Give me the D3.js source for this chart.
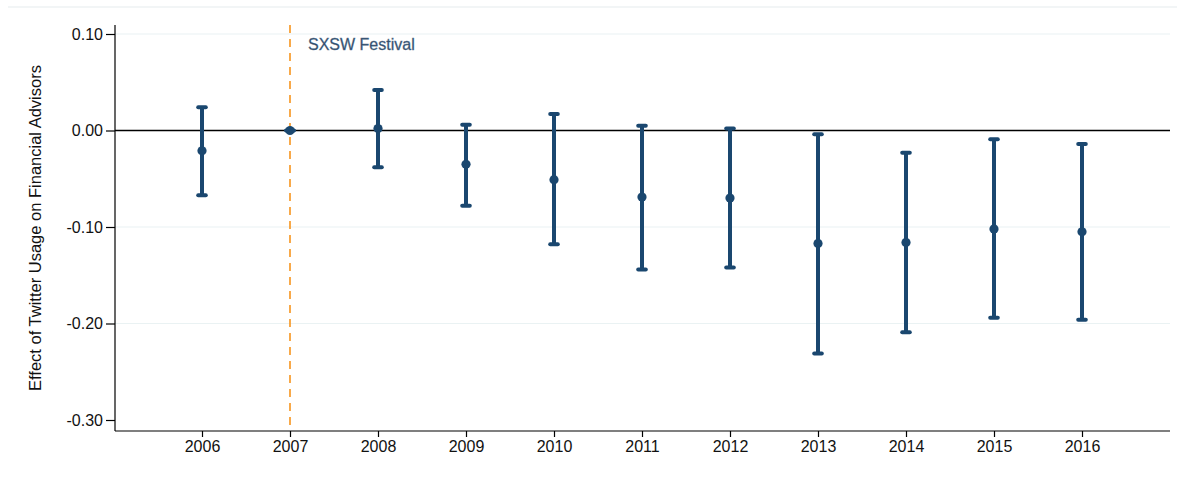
<!DOCTYPE html>
<html>
<head>
<meta charset="utf-8">
<script src="https://cdn.jsdelivr.net/npm/d3@7"></script>
<style>
  html, body { margin: 0; padding: 0; background: #fff; }
  svg { display: block; font-family: "Liberation Sans", Arial, sans-serif; }
</style>
</head>
<body>
<svg id="chart" width="1177" height="477"></svg>
<script>
// Event-study estimates by year, with 95% confidence bounds
const years = [2006, 2007, 2008, 2009, 2010, 2011, 2012, 2013, 2014, 2015, 2016];
const estimates = [-0.021, 0.000, 0.002, -0.035, -0.051, -0.069, -0.070, -0.117, -0.116, -0.102, -0.105];
const upperCI = [0.024, 0.000, 0.042, 0.006, 0.017, 0.005, 0.002, -0.004, -0.023, -0.009, -0.014];
const lowerCI = [-0.067, 0.000, -0.038, -0.078, -0.118, -0.144, -0.142, -0.231, -0.209, -0.194, -0.196];
const yTicks = [0.10, 0.00, -0.10, -0.20, -0.30];
const gridValues = [0.10, -0.10, -0.20];
const eventYear = 2007;
const eventLabel = "SXSW Festival";
const yTitle = "Effect of Twitter Usage on Financial Advisors";

const navy = "#1a476f";
const fontSize = 16;
const svg = d3.select("#chart");

const x = d3.scaleLinear().domain([2005, 2017]).range([114, 1170]);
const y = d3.scaleLinear().domain([0.10, -0.30]).range([34, 420]);
const plotTop = 25, plotBottom = 431, plotLeft = 115, plotRight = 1170;

// faint outer frame line
svg.append("line").attr("x1", 8).attr("x2", 1177).attr("y1", 7).attr("y2", 7)
  .attr("stroke", "#eef2f3").attr("stroke-width", 1.5);

// gridlines
svg.append("g").selectAll("line").data(gridValues).join("line")
  .attr("x1", plotLeft).attr("x2", plotRight)
  .attr("y1", d => y(d)).attr("y2", d => y(d))
  .attr("stroke", "#eaf2f3").attr("stroke-width", 1.2);

// zero reference line
svg.append("line").attr("x1", plotLeft).attr("x2", plotRight)
  .attr("y1", y(0)).attr("y2", y(0))
  .attr("stroke", "#000").attr("stroke-width", 1.3);

// event line
svg.append("line").attr("x1", x(eventYear)).attr("x2", x(eventYear))
  .attr("y1", plotTop).attr("y2", plotBottom)
  .attr("stroke", "#f7941d").attr("stroke-width", 1.6)
  .attr("stroke-dasharray", "8,6");

svg.append("text").attr("x", x(eventYear) + 18).attr("y", 50)
  .attr("fill", "#2b4a6b").attr("stroke", "#5f7690").attr("stroke-width", 0.35)
  .attr("font-size", fontSize).text(eventLabel);

// axes
const yAxis = d3.axisLeft(y).tickValues(yTicks).tickFormat(d3.format(".2f")).tickSize(9).tickPadding(3);
const gy = svg.append("g").attr("transform", `translate(${plotLeft},0)`).call(yAxis);
gy.select(".domain").attr("d", `M0,${plotTop}V${plotBottom}`).attr("stroke", "#000").attr("stroke-width", 1.2);
gy.selectAll(".tick line").attr("stroke", "#000").attr("stroke-width", 1.2);
gy.selectAll(".tick text").attr("font-size", fontSize).attr("fill", "#111")
  .attr("font-family", "Liberation Sans, Arial, sans-serif")
  .text(d => d3.format(".2f")(d).replace("−", "-"));

const xAxis = d3.axisBottom(x).tickValues(years).tickFormat(d3.format("d")).tickSize(6).tickPadding(4);
const gx = svg.append("g").attr("transform", `translate(0,${plotBottom})`).call(xAxis);
gx.select(".domain").attr("d", `M${plotLeft},0H${plotRight}`).attr("stroke", "#000").attr("stroke-width", 1.2);
gx.selectAll(".tick line").attr("stroke", "#000").attr("stroke-width", 1.2);
gx.selectAll(".tick text").attr("font-size", fontSize).attr("fill", "#111")
  .attr("font-family", "Liberation Sans, Arial, sans-serif");

// y title
svg.append("text")
  .attr("transform", `translate(41,${(plotTop + plotBottom) / 2}) rotate(-90)`)
  .attr("text-anchor", "middle").attr("font-size", 16.5).attr("fill", "#111")
  .text(yTitle);

// confidence intervals and point estimates
const rows = years.map((yr, i) => ({ yr, est: estimates[i], lo: lowerCI[i], hi: upperCI[i] }));
const g = svg.append("g");
const capW = 3.8;
g.selectAll(".ci").data(rows).join("line")
  .attr("x1", d => x(d.yr)).attr("x2", d => x(d.yr))
  .attr("y1", d => y(d.hi)).attr("y2", d => y(d.lo))
  .attr("stroke", navy).attr("stroke-width", 4);
g.selectAll(".capHi").data(rows).join("line")
  .attr("x1", d => x(d.yr) - capW).attr("x2", d => x(d.yr) + capW)
  .attr("y1", d => y(d.hi)).attr("y2", d => y(d.hi))
  .attr("stroke", navy).attr("stroke-width", 4).attr("stroke-linecap", "round");
g.selectAll(".capLo").data(rows).join("line")
  .attr("x1", d => x(d.yr) - capW).attr("x2", d => x(d.yr) + capW)
  .attr("y1", d => y(d.lo)).attr("y2", d => y(d.lo))
  .attr("stroke", navy).attr("stroke-width", 4).attr("stroke-linecap", "round");
g.selectAll("circle").data(rows).join("circle")
  .attr("cx", d => x(d.yr)).attr("cy", d => y(d.est)).attr("r", 4.6)
  .attr("fill", navy);
</script>
</body>
</html>
